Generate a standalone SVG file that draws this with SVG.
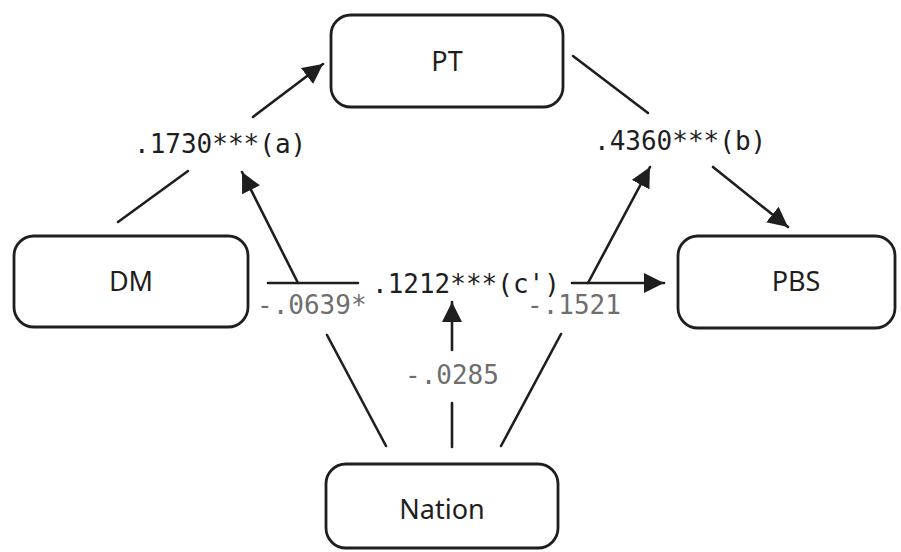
<svg xmlns="http://www.w3.org/2000/svg" width="901" height="552" viewBox="0 0 901 552">
<defs>
<style>
.box{fill:#fff;stroke:#1e1e1e;stroke-width:2.8}
.nt{font-family:"Noto Sans",sans-serif;font-size:27px;fill:#1e1e1e;text-anchor:middle}
.lbl{font-family:"DejaVu Sans Mono","Liberation Mono",monospace;font-size:26px;fill:#1e1e1e}
.g{fill:#6e6e6e}
.ln{stroke:#1e1e1e;stroke-width:2.6;fill:none;stroke-linecap:round}
</style>
<marker id="ah" markerUnits="userSpaceOnUse" markerWidth="22" markerHeight="22" refX="20" refY="10" orient="auto" viewBox="0 0 22 20">
<path d="M0,0 L20,10 L0,20 z" fill="#1e1e1e"/>
</marker>
</defs>
<rect width="901" height="552" fill="#fff"/>
<g id="connectors">
<line class="ln" x1="118" y1="222" x2="188" y2="171"/>
<line class="ln" x1="253" y1="117" x2="323" y2="64" marker-end="url(#ah)"/>
<line class="ln" x1="573" y1="56" x2="648" y2="113"/>
<line class="ln" x1="713" y1="167" x2="788" y2="227" marker-end="url(#ah)"/>
<line class="ln" x1="268" y1="283" x2="358" y2="283"/>
<line class="ln" x1="298" y1="283" x2="242" y2="172" marker-end="url(#ah)"/>
<line class="ln" x1="327" y1="335" x2="386" y2="446"/>
<line class="ln" x1="572" y1="283" x2="664" y2="283" marker-end="url(#ah)"/>
<line class="ln" x1="588" y1="283" x2="650" y2="167" marker-end="url(#ah)"/>
<line class="ln" x1="561" y1="334" x2="501" y2="446"/>
<line class="ln" x1="452" y1="350" x2="452" y2="302" marker-end="url(#ah)"/>
<line class="ln" x1="452" y1="403" x2="452" y2="447"/>
</g>
<g id="labels">
<text class="lbl" x="134" y="153">.1730***(a)</text>
<text class="lbl" x="594" y="150">.4360***(b)</text>
<text class="lbl" x="372" y="293">.1212***(c')</text>
<text class="lbl g" x="257" y="314">-.0639*</text>
<text class="lbl g" x="527" y="314">-.1521</text>
<text class="lbl g" x="405" y="384">-.0285</text>
</g>
<g id="PT">
<rect class="box" x="331" y="15" width="232" height="92" rx="20"/>
<text class="nt" x="447" y="71">PT</text>
</g>
<g id="DM">
<rect class="box" x="14" y="236" width="234" height="91" rx="20"/>
<text class="nt" x="131" y="291">DM</text>
</g>
<g id="PBS">
<rect class="box" x="678" y="236" width="217" height="92" rx="20"/>
<text class="nt" x="796" y="291">PBS</text>
</g>
<g id="Nation">
<rect class="box" x="326" y="464" width="232" height="84" rx="20"/>
<text class="nt" x="442" y="519">Nation</text>
</g>
</svg>
